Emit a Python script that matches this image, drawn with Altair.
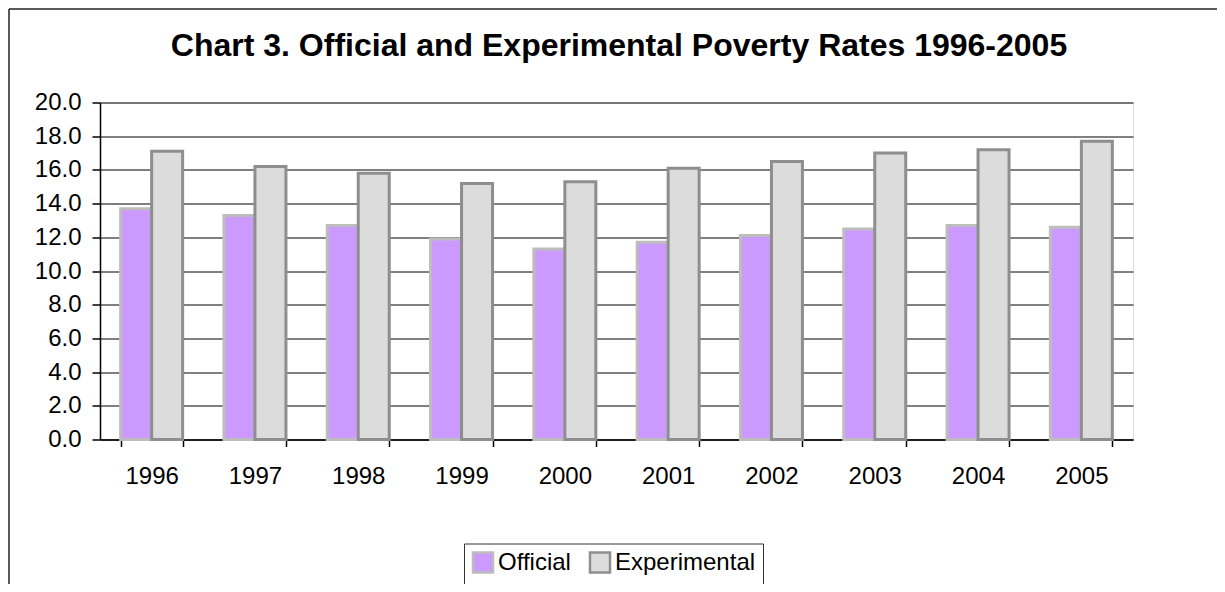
import altair as alt
import pandas as pd

years = ["1996", "1997", "1998", "1999", "2000", "2001", "2002", "2003", "2004", "2005"]
official = [13.7, 13.3, 12.7, 11.9, 11.3, 11.7, 12.1, 12.5, 12.7, 12.6]
experimental = [17.1, 16.2, 15.8, 15.2, 15.3, 16.1, 16.5, 17.0, 17.2, 17.7]
series = ["Official", "Experimental"]
fill_colors = ["#CC99FF", "#DCDCDC"]
stroke_colors = ["#BDBDBD", "#8E8E8E"]
y_ticks = [0, 2, 4, 6, 8, 10, 12, 14, 16, 18, 20]

rows = []
for i, yr in enumerate(years):
    rows.append({"Year": yr, "Series": "Official", "Rate": official[i]})
    rows.append({"Year": yr, "Series": "Experimental", "Rate": experimental[i]})
df = pd.DataFrame(rows)

FONT = "Liberation Sans, Arial, sans-serif"
PLOT_W, PLOT_H = 1033, 337
PAD_L, PAD_T = 92, 94.5
TOTAL_W, TOTAL_H = 1209, 576

legend_style = dict(orient="none", legendX=364, legendY=441, direction="horizontal",
                    title=None, symbolType="square", symbolSize=400,
                    labelFontSize=24, labelFont=FONT, labelColor="#000000",
                    strokeColor="#333333", padding=7, columnPadding=14,
                    labelOffset=3, symbolStrokeWidth=2.5, symbolOpacity=1)

bars = alt.Chart(df).mark_bar(strokeWidth=3, strokeJoin="miter").encode(
    x=alt.X(
        "Year:N", sort=years,
        scale=alt.Scale(paddingInner=0.4, paddingOuter=0.2),
        axis=alt.Axis(title=None, labelAngle=0, tickBand="extent", tickSize=7,
                      labelPadding=18, labelFontSize=24, labelFont=FONT,
                      labelColor="#000000", domainColor="#000000", tickColor="#000000",
                      domainWidth=1.5, tickWidth=1.5, grid=False),
    ),
    xOffset=alt.XOffset("Series:N", sort=series,
                        scale=alt.Scale(domain=series, paddingInner=0, paddingOuter=0)),
    y=alt.Y(
        "Rate:Q",
        scale=alt.Scale(domain=[0, 20], nice=False),
        axis=alt.Axis(title=None, values=y_ticks, format=".1f", tickSize=8,
                      labelPadding=11, labelFontSize=24, labelFont=FONT,
                      labelColor="#000000", domainColor="#000000", tickColor="#000000",
                      domainWidth=1.5, tickWidth=1.5, grid=True, gridColor="#000000",
                      gridWidth=1, gridOpacity=1),
    ),
    color=alt.Color(
        "Series:N", sort=series,
        scale=alt.Scale(domain=series, range=fill_colors),
        legend=alt.Legend(**legend_style),
    ),
    stroke=alt.Stroke(
        "Series:N", sort=series,
        scale=alt.Scale(domain=series, range=stroke_colors),
        legend=alt.Legend(**legend_style),
    ),
    order=alt.Order("Series:N", sort="descending"),
)

frame_src = pd.DataFrame({"k": [0]})
frame_top = alt.Chart(frame_src).mark_rule(color="#222222", strokeWidth=1.5).encode(
    x=alt.value(-(PAD_L - 1)), x2=alt.value(TOTAL_W - PAD_L), y=alt.value(-(PAD_T - 1))
)
frame_left = alt.Chart(frame_src).mark_rule(color="#222222", strokeWidth=1.5).encode(
    x=alt.value(-(PAD_L - 1)), y=alt.value(-(PAD_T - 1)), y2=alt.value(TOTAL_H - PAD_T)
)

chart = alt.layer(frame_top, frame_left, bars).properties(
    width=PLOT_W,
    height=PLOT_H,
    title=alt.Title("Chart 3. Official and Experimental Poverty Rates 1996-2005",
                    fontSize=32, font=FONT, fontWeight="bold", color="#000000",
                    anchor="middle", baseline="alphabetic", offset=0, dx=2.5, dy=80),
    padding={"left": PAD_L, "top": PAD_T, "right": TOTAL_W - PAD_L - PLOT_W,
             "bottom": TOTAL_H - PAD_T - PLOT_H},
    autosize=alt.AutoSizeParams(type="none"),
).configure_view(
    stroke="#8A8A8A", strokeWidth=2.5
).configure(background="#FFFFFF")

chart.save("out.html", embed_options={"renderer": "svg", "actions": False})
